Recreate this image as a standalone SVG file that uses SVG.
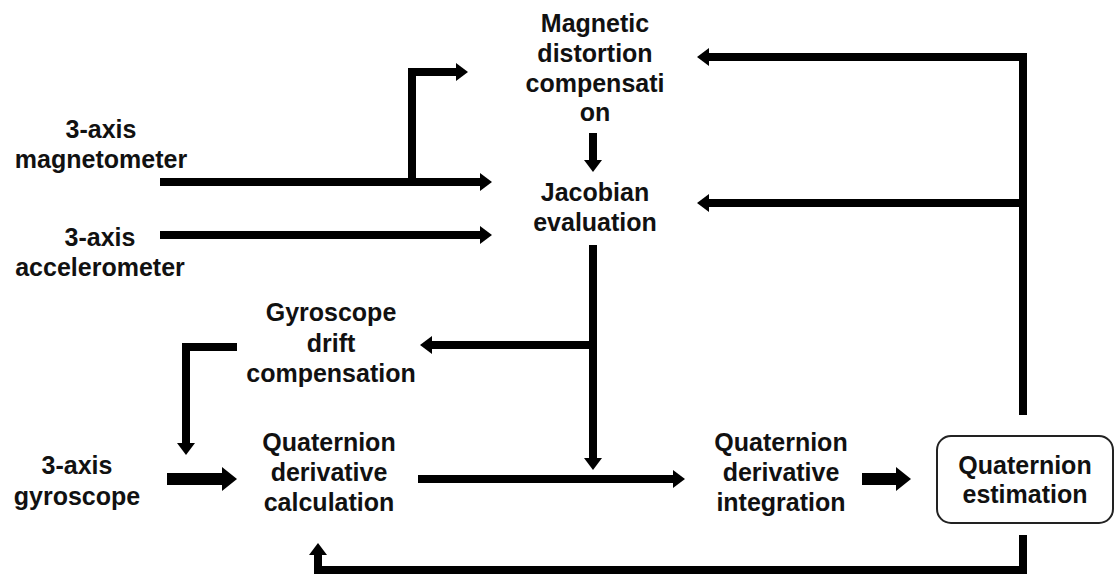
<svg xmlns="http://www.w3.org/2000/svg" width="1119" height="577" viewBox="0 0 1119 577">
<style>
text{font-family:"Liberation Sans",Arial,sans-serif;font-weight:bold;font-size:25px;fill:#111;text-anchor:middle}
.c{fill:none;stroke:#000;stroke-width:8;stroke-linejoin:miter;stroke-linecap:butt}
.t{stroke-width:12}
</style>
<defs>
<marker id="a" markerUnits="userSpaceOnUse" markerWidth="12" markerHeight="18" refX="0" refY="9" orient="auto"><path d="M0,0 L12,9 L0,18 z" fill="#000"/></marker>
<marker id="b" markerUnits="userSpaceOnUse" markerWidth="15" markerHeight="24" refX="0" refY="12" orient="auto"><path d="M0,0 L15,12 L0,24 z" fill="#000"/></marker>
</defs>
<rect width="1119" height="577" fill="#fff"/>
<g id="connectors">
<path class="c" d="M160,182 H480" marker-end="url(#a)"/>
<path class="c" d="M412,186 V72 H456" marker-end="url(#a)"/>
<path class="c" d="M160,235 H480" marker-end="url(#a)"/>
<path class="c" d="M593,133 V160" marker-end="url(#a)"/>
<path class="c" d="M1023,415 V57 H709" marker-end="url(#a)"/>
<path class="c" d="M1023,203 H709" marker-end="url(#a)"/>
<path class="c" d="M593,245 V458" marker-end="url(#a)"/>
<path class="c" d="M593,345 H432" marker-end="url(#a)"/>
<path class="c" d="M237,347 H186 V443" marker-end="url(#a)"/>
<path class="c" d="M418,479 H673" marker-end="url(#a)"/>
<path class="c t" d="M167,479 H222" marker-end="url(#b)"/>
<path class="c t" d="M862,479 H896" marker-end="url(#b)"/>
<path class="c" d="M1023,535 V570 H318 V555" marker-end="url(#a)"/>
</g>
<g id="magnetic"><text x="595" y="32">Magnetic</text><text x="595" y="62">distortion</text><text x="595" y="92">compensati</text><text x="595" y="121">on</text></g>
<g id="jacobian"><text x="595" y="201">Jacobian</text><text x="595" y="231">evaluation</text></g>
<g id="magnetometer"><text x="101" y="138">3-axis</text><text x="101" y="168">magnetometer</text></g>
<g id="accelerometer"><text x="100" y="246">3-axis</text><text x="100" y="276">accelerometer</text></g>
<g id="gyrodrift"><text x="331" y="321">Gyroscope</text><text x="331" y="352">drift</text><text x="331" y="382">compensation</text></g>
<g id="qcalc"><text x="329" y="451">Quaternion</text><text x="329" y="481">derivative</text><text x="329" y="511">calculation</text></g>
<g id="gyroscope"><text x="77" y="474">3-axis</text><text x="77" y="505">gyroscope</text></g>
<g id="qinteg"><text x="781" y="451">Quaternion</text><text x="781" y="481">derivative</text><text x="781" y="511">integration</text></g>
<g id="qest"><rect x="937" y="436" width="176" height="87" rx="14" fill="#fff" stroke="#222" stroke-width="2"/><text x="1025" y="474">Quaternion</text><text x="1025" y="503">estimation</text></g>
</svg>
